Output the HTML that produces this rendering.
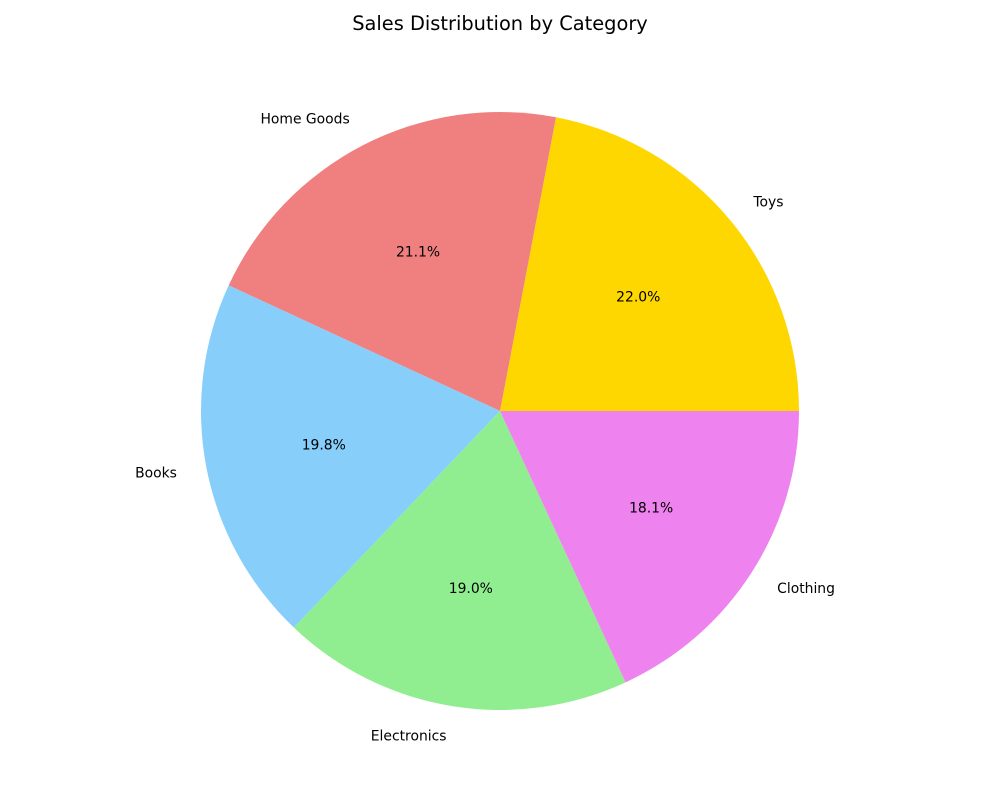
<!DOCTYPE html>
<html><head><meta charset="utf-8"><style>
html,body{margin:0;padding:0;background:#fff;}
svg{display:block;font-family:"DejaVu Sans","Liberation Sans",sans-serif;}
</style></head><body>
<svg id="chart" width="1000" height="800" viewBox="0 0 1000 800">
<text x="500" y="30" text-anchor="middle" font-size="19.4" fill="#000">Sales Distribution by Category</text>
</svg>
<script>
const categories = ["Toys", "Home Goods", "Books", "Electronics", "Clothing"];
const values = [22.0, 21.1, 19.8, 19.0, 18.1];
const colors = ["#FFD700", "#F08080", "#87CEFA", "#90EE90", "#EE82EE"];

const svg = document.getElementById('chart');
const NS = "http://www.w3.org/2000/svg";
const cx = 500, cy = 411, R = 299;
const total = values.reduce((a, b) => a + b, 0);
function pt(angDeg, r) {
  const a = angDeg * Math.PI / 180;
  return [cx + r * Math.cos(a), cy - r * Math.sin(a)];
}
let start = 0;
values.forEach((v, i) => {
  const sweep = v / total * 360;
  const end = start + sweep;
  const [x1, y1] = pt(start, R);
  const [x2, y2] = pt(end, R);
  const large = sweep > 180 ? 1 : 0;
  const p = document.createElementNS(NS, 'path');
  p.setAttribute('d', `M${cx},${cy} L${x1},${y1} A${R},${R} 0 ${large} 0 ${x2},${y2} Z`);
  p.setAttribute('fill', colors[i]);
  
  
  svg.appendChild(p);

  const mid = start + sweep / 2;
  const [lx, ly] = pt(mid, R * 1.1);
  const t = document.createElementNS(NS, 'text');
  t.setAttribute('x', lx);
  t.setAttribute('y', ly + 1);
  t.setAttribute('font-size', '13.9');
  t.setAttribute('dominant-baseline', 'central');
  t.setAttribute('text-anchor', Math.cos(mid * Math.PI / 180) >= 0 ? 'start' : 'end');
  t.textContent = categories[i];
  
  
  svg.appendChild(t);

  const [px, py] = pt(mid, R * 0.6);
  const pc = document.createElementNS(NS, 'text');
  pc.setAttribute('x', px);
  pc.setAttribute('y', py + 1);
  pc.setAttribute('font-size', '13.9');
  pc.setAttribute('dominant-baseline', 'central');
  pc.setAttribute('text-anchor', 'middle');
  pc.textContent = (v / total * 100).toFixed(1) + '%';
  
  
  svg.appendChild(pc);

  start = end;
});
</script>
</body></html>
